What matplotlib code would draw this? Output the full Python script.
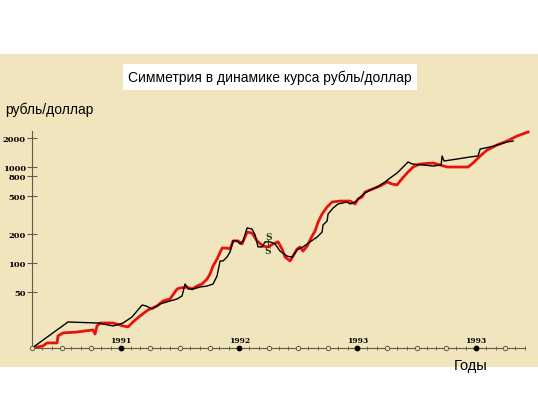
import matplotlib
matplotlib.use('Agg')
import matplotlib.pyplot as plt
from matplotlib.patches import Rectangle

# Months counted from April 1990 (0 = start of the axis)
black_months = [0, 3.65, 6.69, 8.22, 9.23, 10.14, 11.16, 11.56, 12.17, 12.98, 13.99,
                14.71, 15.21, 15.52, 15.82, 16.33, 17.04, 17.75, 18.36, 18.76, 19.07,
                19.37, 19.78, 20.08, 20.39, 20.79, 21.10, 21.40, 21.81, 22.31, 22.62,
                22.92, 23.33, 23.63, 24.14, 24.65, 25.15, 25.86, 26.37, 26.88, 27.48,
                28.19, 28.90, 29.41, 29.51, 29.92, 30.02, 30.53, 31.03, 31.95, 32.25,
                32.76, 33.27, 33.77, 34.28, 34.99, 35.80, 36.31, 37.02, 37.63, 38.13,
                38.54, 39.66, 40.67, 41.48, 41.58, 41.78, 43.10, 44.42, 45.23, 45.44,
                46.45, 47.16, 48.17, 48.78]
black_rate = [13.0, 24.3, 23.7, 22.1, 23.7, 27.4, 36.5, 35.7, 33.2, 37.4, 40.2,
              42.2, 45.3, 60.4, 53.6, 53.6, 56.2, 57.6, 60.4, 73.2, 105,
              105, 115.5, 130, 170, 170, 158, 170, 232, 226, 196,
              147, 147, 166, 166, 158, 133, 118, 115, 137, 147,
              166, 186, 210, 249, 274, 324, 374, 412, 432, 412,
              432, 487, 536, 576, 619, 698, 768, 866, 1000, 1128,
              1075, 1049, 1024, 1049, 1303, 1155, 1211, 1272, 1303, 1540,
              1616, 1696, 1820, 1865]

red_months = [0, 1.12, 1.52, 2.54, 2.64, 3.14, 4.56, 6.19, 6.39, 6.59, 6.90,
              8.22, 9.23, 9.74, 10.24, 10.95, 11.76, 12.68, 13.29, 13.99, 14.71,
              15.01, 15.72, 16.23, 16.73, 17.24, 17.75, 18.05, 18.36, 18.76, 19.27,
              19.78, 20.08, 20.39, 20.89, 21.30, 21.81, 22.31, 22.82, 23.43, 23.94,
              24.44, 24.95, 25.35, 25.66, 26.17, 26.47, 26.88, 27.18, 27.48, 27.89,
              28.40, 28.70, 29.01, 29.41, 29.92, 30.43, 31.24, 32.25, 32.76, 33.06,
              33.47, 33.77, 34.28, 35.29, 36.00, 36.51, 37.02, 37.32, 38.03, 38.64,
              39.35, 40.67, 41.38, 42.09, 44.22, 44.73, 45.44, 46.15, 47.16, 48.17,
              49.19, 50.30]
red_rate = [13.0, 13.7, 14.7, 14.7, 17.4, 18.7, 19.1, 20.1, 18.2, 22.1, 23.7,
            23.7, 22.1, 21.6, 24.3, 28.1, 32.4, 35.7, 40.2, 42.2, 53.6,
            54.9, 56.2, 53.6, 57.6, 60.4, 68.1, 76.8, 93.1, 110, 143,
            143, 140, 170, 170, 158, 210, 205, 170, 150, 147,
            158, 166, 140, 115.5, 105, 118, 140, 147, 133, 150,
            191, 215, 267, 324, 383, 432, 442, 442, 412, 464,
            487, 549, 576, 634, 698, 665, 650, 715, 866, 1000,
            1075, 1101, 1049, 1000, 1000, 1101, 1303, 1504, 1696, 1865,
            2104, 2315]

y_ticks = [50, 100, 200, 500, 800, 1000, 2000]
year_months = [9, 21, 33, 45]
year_labels = ['1991', '1992', '1993', '1993']

fig = plt.figure(figsize=(5.38, 4.02), dpi=100, facecolor='white')

# beige paper background
fig.patches.append(Rectangle((0, (402 - 368) / 402), 1, (368 - 55) / 402,
                             transform=fig.transFigure, facecolor='#f1e5bd',
                             edgecolor='none', zorder=-1))

ax = fig.add_axes([32 / 538, 53 / 402, 503 / 538, 229 / 402])
ax.set_facecolor('none')
ax.set_yscale('log')
ax.set_xlim(0, 51)
ax.set_ylim(13.02, 3162)

ax.plot(red_months, red_rate, color='#e8120c', lw=2.0, zorder=3)
ax.plot(black_months, black_rate, color='black', lw=1.0, zorder=4)

for side in ['top', 'right']:
    ax.spines[side].set_visible(False)
axis_col = '#5e5e48'
ax.spines['left'].set_color(axis_col)
ax.spines['bottom'].set_color(axis_col)
ax.spines['left'].set_linewidth(0.8)
ax.spines['bottom'].set_linewidth(0.8)
ax.spines['left'].set_bounds(13.02, 2350)
ax.spines['bottom'].set_bounds(0, 50)

ax.set_yticks(y_ticks)
ax.set_yticklabels([str(t) for t in y_ticks], family='DejaVu Serif',
                   fontweight='bold', fontsize=6)
ax.yaxis.set_minor_locator(plt.NullLocator())
ax.tick_params(axis='y', direction='inout', length=7, width=0.8,
               color=axis_col, pad=1)

ax.set_xticks(range(0, 51))
ax.set_xticklabels([])
ax.tick_params(axis='x', direction='inout', length=3, width=0.6,
               color=axis_col)

# quarter circles and year dots on the time axis
quarters = [q for q in range(0, 51, 3) if q not in year_months]
ax.scatter(quarters, [13.02] * len(quarters), s=10, facecolor='#f1e5bd',
           edgecolor=axis_col, lw=0.7, clip_on=False, zorder=5)
ax.scatter(year_months, [13.02] * len(year_months), s=10, color='black',
           clip_on=False, zorder=5)
for m, lab in zip(year_months, year_labels):
    ax.text(m, 14.4, lab, ha='center', va='bottom', fontsize=5.5,
            fontweight='bold', family='DejaVu Serif')

# symmetry marks
ax.text(24.04, 190, 'S', ha='center', va='center', fontsize=6.5,
        fontweight='bold', family='DejaVu Serif', color='#3a3a20', zorder=6)
ax.text(23.85, 135, 'S', ha='center', va='center', fontsize=6.5,
        fontweight='bold', family='DejaVu Serif', color='#3a3a20', zorder=6)
ax.plot([23.95, 23.95], [150, 172], color='#3a3a20', lw=0.8, zorder=6)

# title box
fig.text(270 / 538, 1 - 78 / 402, 'Симметрия в динамике курса рубль/доллар',
         ha='center', va='center', fontsize=10, family='Liberation Sans',
         bbox=dict(facecolor='white', edgecolor='none', pad=4))
fig.text(5 / 538, 1 - 110 / 402, 'рубль/доллар', ha='left', va='center',
         fontsize=10, family='Liberation Sans')
fig.text(471 / 538, 1 - 366 / 402, 'Годы', ha='center', va='center',
         fontsize=10.5, family='Liberation Sans')

fig.savefig('out.png', dpi=100, facecolor='white')
plt.close(fig)
